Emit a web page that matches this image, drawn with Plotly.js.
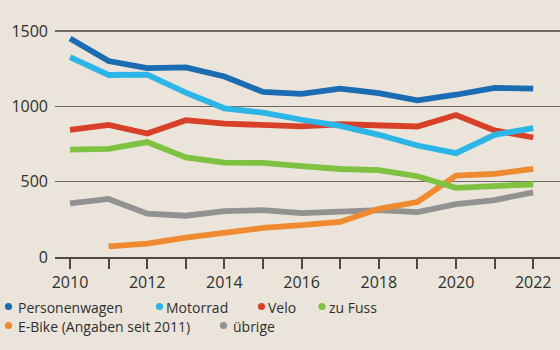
<!DOCTYPE html>
<html>
<head>
<meta charset="utf-8">
<script src="https://cdn.plot.ly/plotly-3.0.1.min.js"></script>
<style>
html,body{margin:0;padding:0;background:#eae4da;}
#chart{width:560px;height:350px;}
</style>
</head>
<body>
<div id="chart"></div>
<script>
// ---- data ----
var years = [2010,2011,2012,2013,2014,2015,2016,2017,2018,2019,2020,2021,2022];
var personenwagen = [1451,1301,1254,1259,1198,1096,1083,1117,1087,1040,1077,1123,1118];
var motorrad      = [1327,1208,1211,1091,987,958,911,870,811,740,689,811,856];
var velo          = [843,877,819,908,885,879,867,881,878,866,942,840,793];
var zuFuss        = [713,718,763,661,626,625,603,584,577,536,459,472,483];
var eBike         = [null,71,89,128,162,193,211,233,320,365,540,552,585];
var uebrige       = [356,385,288,274,305,311,291,298,311,298,351,378,429];
var seriesNames = ["Personenwagen","Motorrad","Velo","zu Fuss","E-Bike (Angaben seit 2011)","übrige"];
var xTickLabels = ["2010","","2012","","2014","","2016","","2018","","2020","","2022"];
var yTickVals = [0,500,1000,1500];
var yTickLabels = ["0","500","1000","1500"];

// ---- styling ----
var seriesData = [personenwagen, motorrad, velo, zuFuss, eBike, uebrige];
var colors = ["#1b6cb3","#2cb5e6","#d8402a","#7fc241","#ef8a30","#929292"];
var drawOrder = [5,4,3,2,1,0];

var traces = drawOrder.map(function(i){
  return {
    x: years, y: seriesData[i], name: seriesNames[i],
    type: "scatter", mode: "lines",
    line: {color: colors[i], width: 5.8},
    showlegend: false, hoverinfo: "skip", cliponaxis: false
  };
});

// plot area in pixels (y: 0 at 257, 1500 at 31 -> extend 2px above so the top grid line shows)
var L = 55, R = 560, T = 29, B = 257;
var yTop = 1500 + 2 * 1500 / 226;
function px2paperX(px){ return (px - L) / (R - L); }
function px2paperY(py){ return (B - py) / (B - T); }

// legend layout (pixel positions)
var legDotX = [8.5, 159.5, 261.5, 322, 8.5, 223.5];
var legTextX = [18, 165.5, 267.5, 329, 18, 232.5];
var legY = [307.5, 307.5, 307.5, 307.5, 326.5, 326.5];

var shapes = [], annotations = [];
for (var i = 0; i < seriesNames.length; i++) {
  shapes.push({
    type: "circle", xref: "paper", yref: "paper",
    xsizemode: "pixel", ysizemode: "pixel",
    xanchor: px2paperX(legDotX[i]), yanchor: px2paperY(legY[i] - 1),
    x0: -3.6, x1: 3.6, y0: -3.6, y1: 3.6,
    fillcolor: colors[i], line: {width: 0}
  });
  annotations.push({
    xref: "paper", yref: "paper",
    x: px2paperX(legTextX[i]), y: px2paperY(legY[i]),
    xanchor: "left", yanchor: "middle", showarrow: false,
    borderpad: 0, borderwidth: 0,
    text: seriesNames[i],
    font: {family: "Open Sans, sans-serif", size: 14, color: "#2f2f2f"}
  });
}

var layout = {
  width: 560, height: 350,
  margin: {l: L, r: 560 - R, t: T, b: 350 - B},
  paper_bgcolor: "#eae4da", plot_bgcolor: "rgba(0,0,0,0)",
  showlegend: false,
  font: {family: "Open Sans, sans-serif", size: 15, color: "#2f2f2f"},
  xaxis: {
    range: [2009.611, 2022.694], fixedrange: true,
    tickvals: years, ticktext: xTickLabels,
    ticks: "outside", ticklen: 10, tickwidth: 2, tickcolor: "#4d4843",
    showline: true, linecolor: "#4d4843", linewidth: 2,
    showgrid: false, zeroline: false,
    tickfont: {size: 16, color: "#2f2f2f"}
  },
  yaxis: {
    range: [0, yTop], fixedrange: true,
    tickvals: yTickVals, ticktext: yTickLabels,
    ticks: "", showline: false, zeroline: false,
    showgrid: true, gridcolor: "#6e6862", gridwidth: 1.5,
    ticklabelstandoff: 6,
    tickfont: {size: 16, color: "#2f2f2f"}
  },
  shapes: shapes,
  annotations: annotations
};

Plotly.newPlot("chart", traces, layout, {staticPlot: true, displayModeBar: false});
</script>
</body>
</html>
